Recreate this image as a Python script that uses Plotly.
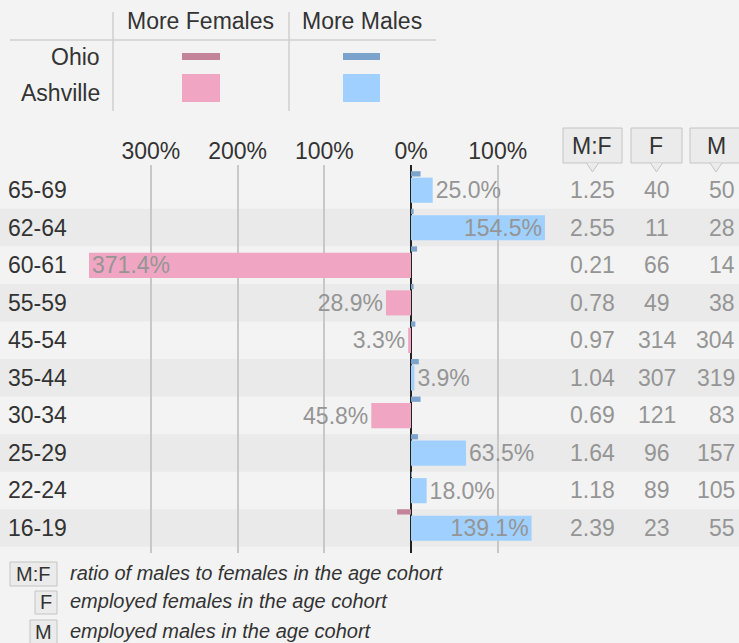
import plotly.graph_objects as go

W, H = 739, 643

# data
ages = ['65-69', '62-64', '60-61', '55-59', '45-54', '35-44', '30-34', '25-29', '22-24', '16-19']
ashville_pct = [25.0, 154.5, -371.4, -28.9, -3.3, 3.9, -45.8, 63.5, 18.0, 139.1]
ohio_pct = [11, 3, 7, 3, 5, 9, 11, 8, 1, -16]
females = [40, 11, 66, 49, 314, 307, 121, 96, 89, 23]
males = [50, 28, 14, 38, 304, 319, 83, 157, 105, 55]
tick_vals = [-300, -200, -100, 0, 100]
tick_text = ['300%', '200%', '100%', '0%', '100%']

FONT = 'Liberation Sans, Arial, sans-serif'
FEM_ASH, MALE_ASH = '#f0a6c2', '#9fd0ff'
FEM_OH, MALE_OH = '#c3849a', '#7ba3cc'
TXT, GREY = '#333333', '#959595'
BOX_FILL, BOX_LINE = '#ebebeb', '#c4c4c4'


def px(x, y):
    # pixel position -> paper coordinates
    return x / W, 1 - y / H


def rect(x0, y0, x1, y1, fill, line=None, width=1):
    a, b = px(x0, y0)
    c, d = px(x1, y1)
    return dict(type='rect', xref='paper', yref='paper', x0=a, y0=b, x1=c, y1=d,
                fillcolor=fill, line=dict(color=line or fill, width=width if line else 0),
                layer='above')


def hline(x0, x1, y, color='#cfcfcf'):
    a, b = px(x0, y)
    c, _ = px(x1, y)
    return dict(type='line', xref='paper', yref='paper', x0=a, x1=c, y0=b, y1=b,
                line=dict(color=color, width=1.5))


def vline(x, y0, y1, color='#cfcfcf'):
    a, b = px(x, y0)
    _, d = px(x, y1)
    return dict(type='line', xref='paper', yref='paper', x0=a, x1=a, y0=b, y1=d,
                line=dict(color=color, width=1.5))


def label(text, x, y, anchor='center', size=23, color=TXT, italic=False):
    a, b = px(x, y)
    return dict(text=text, xref='paper', yref='paper', x=a, y=b, xanchor=anchor,
                yanchor='middle', showarrow=False,
                font=dict(family=FONT, size=size, color=color,
                          style='italic' if italic else 'normal'))


fig = go.Figure()

fig.add_trace(go.Bar(
    y=ages, x=ohio_pct, orientation='h', width=0.14, offset=-0.5,
    marker=dict(color=[MALE_OH if v > 0 else FEM_OH for v in ohio_pct], line_width=0),
    hoverinfo='skip'))

# long bars carry their label inside, short ones outside
fig.add_trace(go.Bar(
    y=ages, x=ashville_pct, orientation='h', width=0.67, offset=-0.33,
    marker=dict(color=[MALE_ASH if v > 0 else FEM_ASH for v in ashville_pct], line_width=0),
    text=[f'{abs(v):.1f}%' for v in ashville_pct],
    textposition=['inside' if abs(v) > 100 else 'outside' for v in ashville_pct],
    insidetextanchor='end', constraintext='none', cliponaxis=False, textangle=0,
    insidetextfont=dict(family=FONT, size=23, color=GREY),
    outsidetextfont=dict(family=FONT, size=23, color=GREY),
    hoverinfo='skip'))

shapes = []
# alternate row shading
for i in range(1, len(ages), 2):
    shapes.append(dict(type='rect', xref='paper', yref='y', x0=0, x1=1,
                       y0=i - 0.5, y1=i + 0.5, fillcolor='#eaeaea',
                       line_width=0, layer='below'))

# legend grid at the top
shapes += [vline(113, 12, 111), vline(289, 12, 111), hline(10, 436, 40)]
shapes += [rect(182, 53, 220, 60, FEM_OH), rect(343, 53, 380, 60, MALE_OH),
           rect(182, 74, 220, 102, FEM_ASH), rect(343, 74, 380, 102, MALE_ASH)]

# column header boxes with pointers
for x0, x1 in [(563, 622), (631, 682), (690, 742)]:
    shapes.append(rect(x0, 128, x1, 163, BOX_FILL, BOX_LINE))
    cx = (x0 + x1) / 2
    pts = [px(cx - 6, 163), px(cx, 172), px(cx + 6, 163)]
    path = 'M{},{} L{},{} L{},{}'.format(*[v for p in pts for v in p])
    shapes.append(dict(type='path', xref='paper', yref='paper', path=path,
                       fillcolor=BOX_FILL, line=dict(color=BOX_LINE, width=1), layer='above'))

# footnote boxes
shapes += [rect(10, 562, 57, 586, BOX_FILL, BOX_LINE),
           rect(35, 591, 57, 614, BOX_FILL, BOX_LINE),
           rect(30, 620, 57, 644, BOX_FILL, BOX_LINE)]

annotations = [
    label('More Females', 200, 21), label('More Males', 362, 21),
    label('Ohio', 102, 57, 'right'), label('Ashville', 102, 93, 'right'),
    label('M:F', 592, 146), label('F', 656, 146), label('M', 716, 146),
    label('M:F', 33, 574, size=20), label('F', 46, 602, size=20), label('M', 43, 632, size=20),
    label('ratio of males to females in the age cohort', 68, 573, 'left', 20, italic=True),
    label('employed females in the age cohort', 68, 601, 'left', 20, italic=True),
    label('employed males in the age cohort', 68, 631, 'left', 20, italic=True),
]

# age labels and table values
for age, f, m in zip(ages, females, males):
    annotations.append(dict(text=age, xref='paper', yref='y', x=6 / W, y=age,
                            xanchor='left', yanchor='middle', showarrow=False,
                            font=dict(family=FONT, size=23, color=TXT)))
    for txt, x, anc in [(f'{m / f:.2f}', 592, 'center'), (str(f), 657, 'center'),
                        (str(m), 737, 'right')]:
        annotations.append(dict(text=txt, xref='paper', yref='y', x=x / W, y=age,
                                xanchor=anc, yanchor='middle', showarrow=False,
                                font=dict(family=FONT, size=23, color=GREY)))

# x scale: 0% at 411px, 100% = 86.7px
x_lo = -411 / 0.867
x_hi = (W - 411) / 0.867
# y scale: first row centre at 190px, 37.56px per row, plot from 165 to 553px
y_top = (165 - 190) / 37.56
y_bot = (553 - 190) / 37.56

fig.update_layout(
    width=W, height=H, autosize=False,
    margin=dict(l=0, r=0, t=0, b=0),
    paper_bgcolor='#f3f3f3', plot_bgcolor='rgba(0,0,0,0)',
    barmode='overlay', showlegend=False,
    font=dict(family=FONT, size=23, color=TXT),
    shapes=shapes, annotations=annotations,
    xaxis=dict(range=[x_lo, x_hi], side='top', tickvals=tick_vals, ticktext=tick_text,
               showgrid=True, gridcolor='#c8c8c8', gridwidth=1.5,
               zeroline=True, zerolinecolor='#222222', zerolinewidth=2,
               showline=False, ticks='', fixedrange=True,
               tickfont=dict(family=FONT, size=23, color=TXT)),
    yaxis=dict(domain=[1 - 553 / H, 1 - 165 / H], range=[y_bot, y_top],
               type='category', categoryorder='array', categoryarray=ages,
               showticklabels=False, showgrid=False, zeroline=False,
               showline=False, ticks='', fixedrange=True),
)

fig.write_html('out.html', config={'displayModeBar': False},
               post_script="document.body.style.margin='0';")
